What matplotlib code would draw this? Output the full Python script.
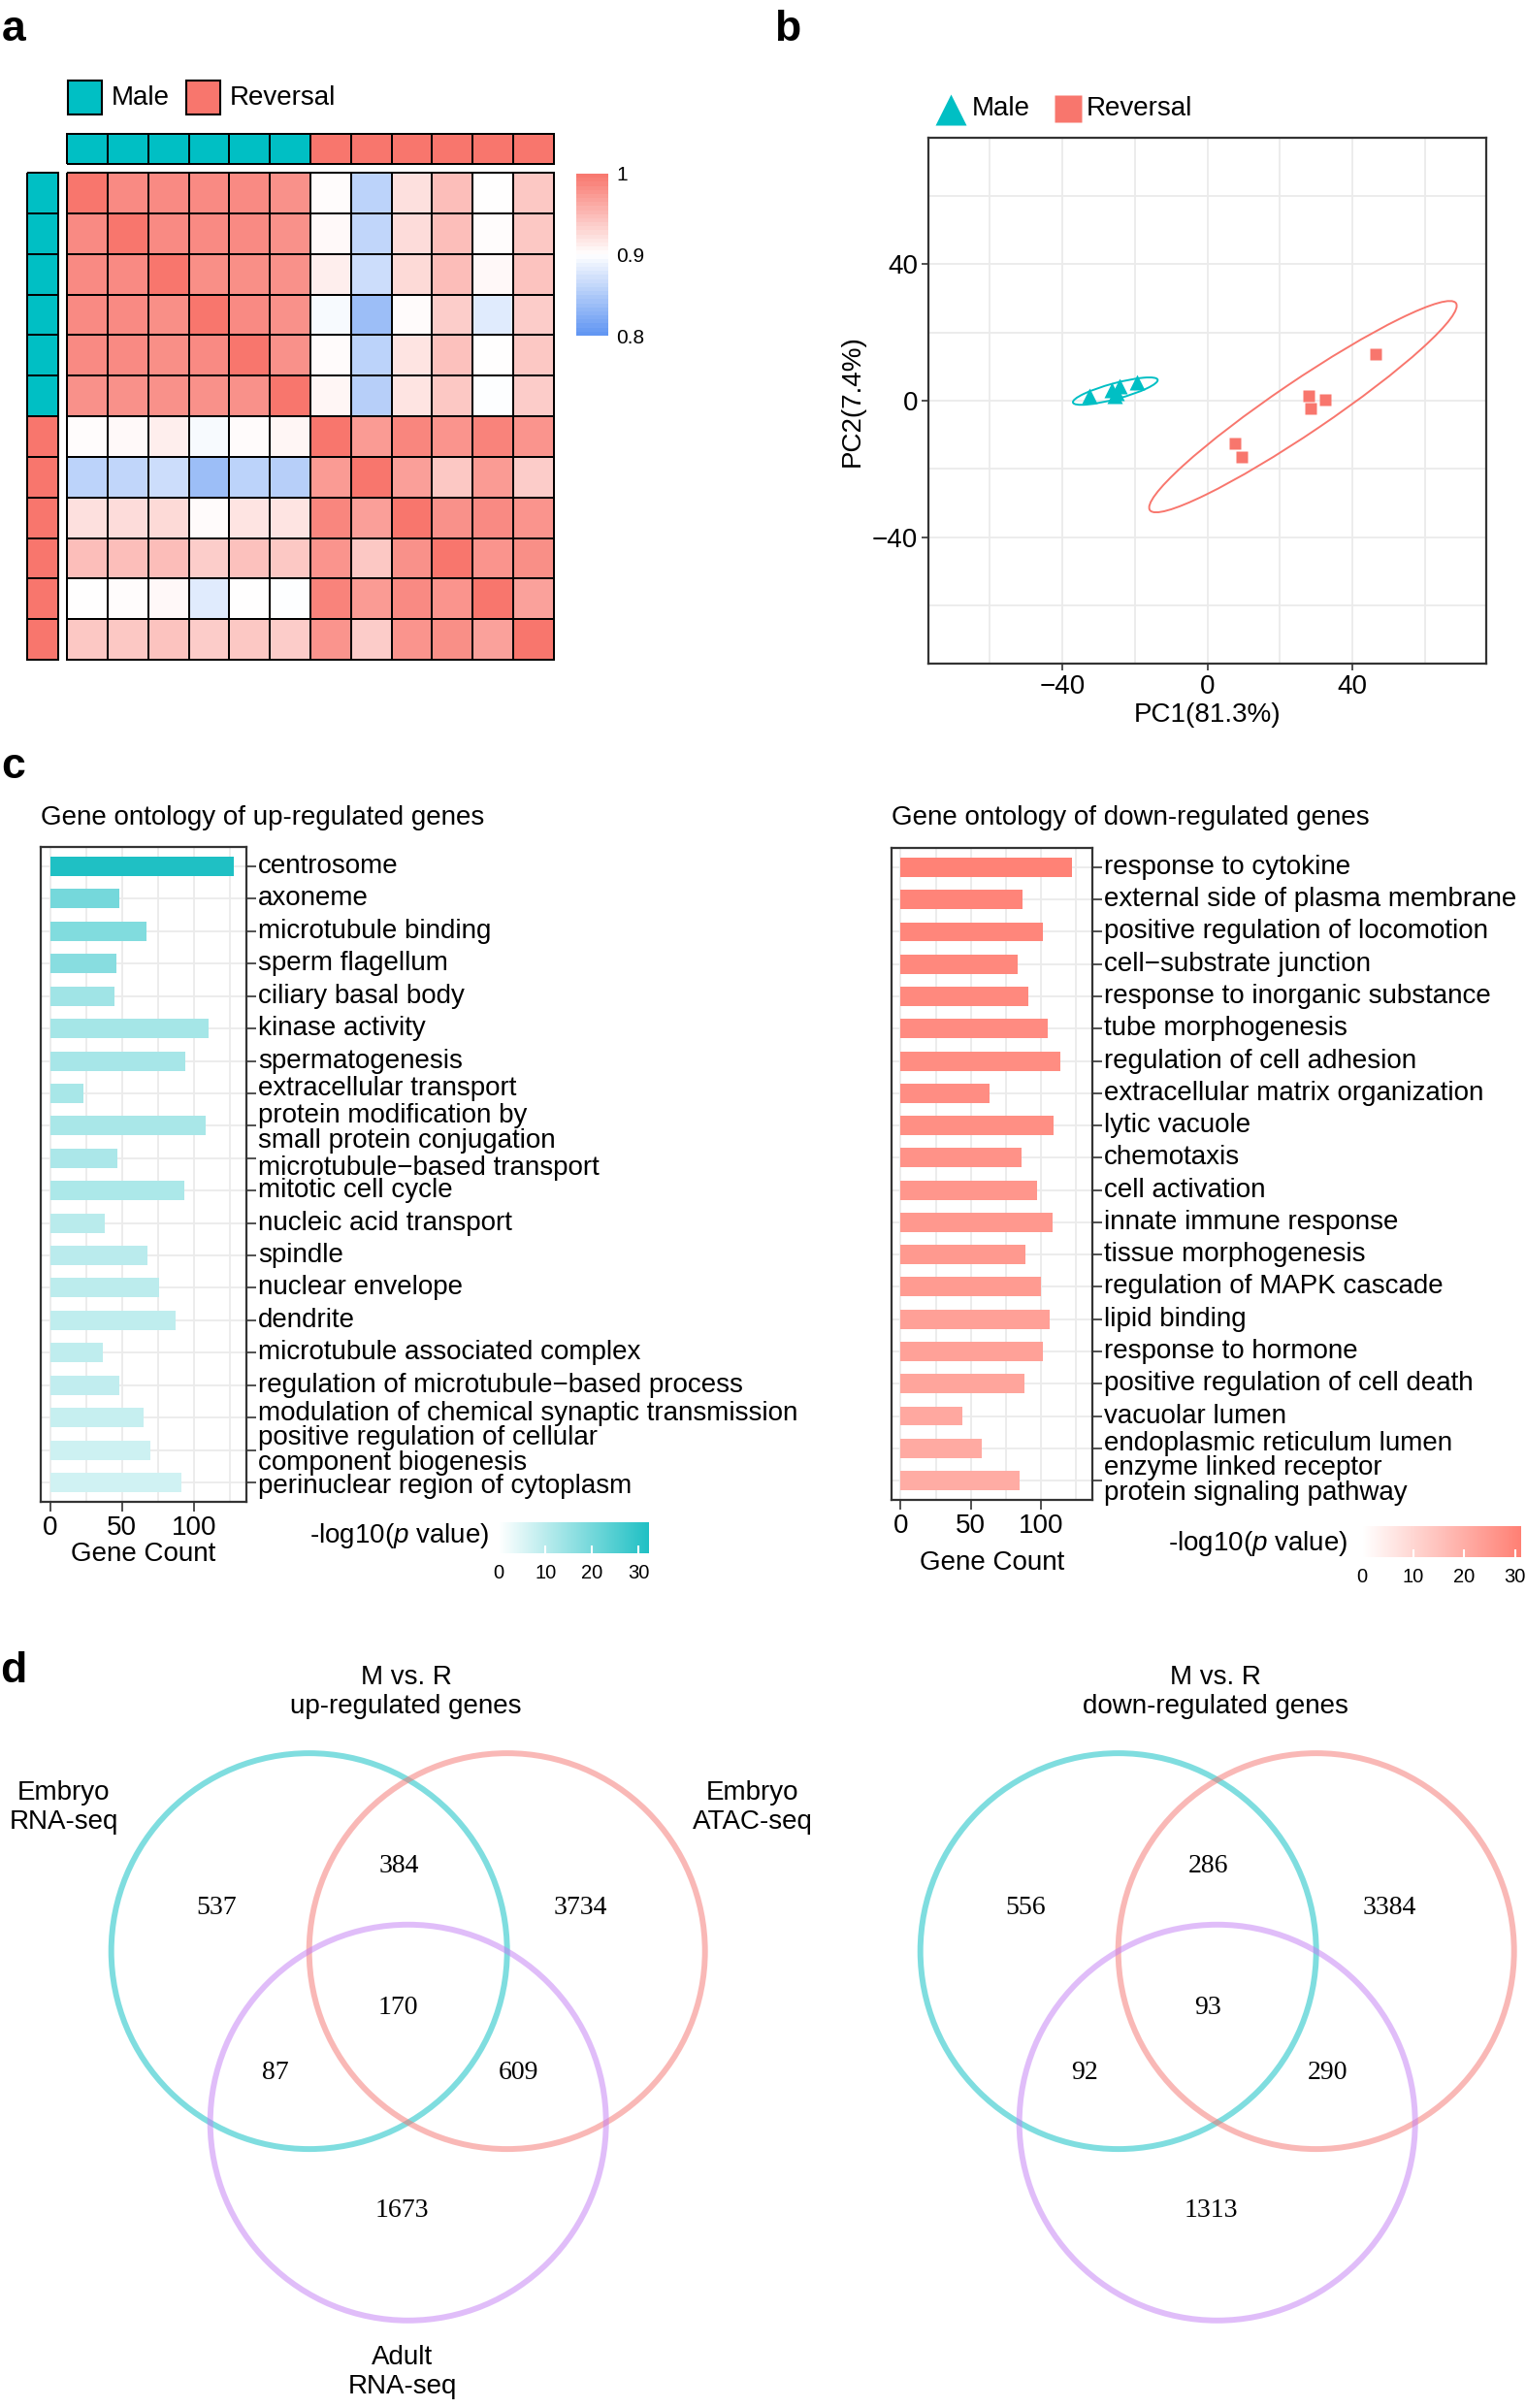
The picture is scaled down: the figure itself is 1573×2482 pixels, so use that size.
import numpy as np
import matplotlib
matplotlib.use('Agg')
import matplotlib.pyplot as plt
from matplotlib.colors import LinearSegmentedColormap, ListedColormap, Normalize
from matplotlib.cm import ScalarMappable
from matplotlib.patches import Ellipse, Circle, Rectangle
from matplotlib.transforms import blended_transform_factory, offset_copy

plt.rcParams['font.family'] = ['Liberation Sans', 'DejaVu Sans']
plt.rcParams['mathtext.fontset'] = 'custom'
plt.rcParams['mathtext.rm'] = 'Liberation Sans'
plt.rcParams['mathtext.it'] = 'Liberation Sans:italic'

# ---------------- data ----------------
# a: sample correlation (6 Male, 6 Reversal)
sample_group = [0] * 6 + [1] * 6
group_names = ['Male', 'Reversal']
corr = [
    [1.000, 0.985, 0.985, 0.985, 0.985, 0.980, 0.902, 0.858, 0.922, 0.947, 0.900, 0.940],
    [0.985, 1.000, 0.985, 0.985, 0.985, 0.980, 0.904, 0.861, 0.925, 0.947, 0.902, 0.940],
    [0.985, 0.985, 1.000, 0.982, 0.982, 0.980, 0.912, 0.868, 0.927, 0.948, 0.905, 0.943],
    [0.985, 0.985, 0.982, 1.000, 0.985, 0.980, 0.895, 0.839, 0.903, 0.936, 0.881, 0.937],
    [0.985, 0.985, 0.982, 0.985, 1.000, 0.980, 0.903, 0.858, 0.920, 0.945, 0.900, 0.940],
    [0.980, 0.980, 0.980, 0.980, 0.980, 1.000, 0.907, 0.855, 0.920, 0.940, 0.899, 0.937],
    [0.902, 0.904, 0.912, 0.895, 0.903, 0.907, 1.000, 0.973, 0.988, 0.978, 0.990, 0.978],
    [0.858, 0.861, 0.868, 0.839, 0.858, 0.855, 0.973, 1.000, 0.970, 0.940, 0.973, 0.937],
    [0.922, 0.925, 0.927, 0.903, 0.920, 0.920, 0.988, 0.970, 1.000, 0.980, 0.985, 0.978],
    [0.947, 0.947, 0.948, 0.936, 0.945, 0.940, 0.978, 0.940, 0.980, 1.000, 0.978, 0.982],
    [0.900, 0.902, 0.905, 0.881, 0.900, 0.899, 0.990, 0.973, 0.985, 0.978, 1.000, 0.968],
    [0.940, 0.940, 0.943, 0.937, 0.940, 0.937, 0.978, 0.937, 0.978, 0.982, 0.968, 1.000],
]
corr_ticks = [0.8, 0.9, 1.0]
corr_ticklabels = ['0.8', '0.9', '1']

# b: PCA
male_pc1 = [-32.5, -26.3, -25.5, -24.3, -25.0, -19.3]
male_pc2 = [1.5, 3.0, 1.3, 4.3, 2.2, 5.3]
rev_pc1 = [7.7, 9.4, 27.9, 28.6, 32.6, 46.5]
rev_pc2 = [-12.4, -16.4, 1.5, -2.2, 0.4, 13.5]
# ellipses: centre x, centre y, width, height, angle
male_ellipse = (-25.4, 2.8, 24.3, 4.6, 16)
rev_ellipse = (26.4, -1.75, 104, 15, 35.7)

# c: gene ontology
up_terms = ['centrosome', 'axoneme', 'microtubule binding', 'sperm flagellum',
            'ciliary basal body', 'kinase activity', 'spermatogenesis',
            'extracellular transport', 'protein modification by\nsmall protein conjugation',
            'microtubule\u2212based transport', 'mitotic cell cycle', 'nucleic acid transport',
            'spindle', 'nuclear envelope', 'dendrite', 'microtubule associated complex',
            'regulation of microtubule\u2212based process',
            'modulation of chemical synaptic transmission',
            'positive regulation of cellular\ncomponent biogenesis',
            'perinuclear region of cytoplasm']
up_count = [128, 48, 67, 46, 45, 110, 94, 23, 108, 47, 93, 38, 68, 76, 87, 37, 48, 65, 70, 91]
up_logp = [32.2, 19.8, 18.0, 17.2, 13.7, 12.9, 12.6, 12.5, 12.4, 12.2, 11.9, 10.1, 10.0,
           9.6, 9.3, 9.2, 9.0, 8.2, 7.2, 6.8]

down_terms = ['response to cytokine', 'external side of plasma membrane',
              'positive regulation of locomotion', 'cell\u2212substrate junction',
              'response to inorganic substance', 'tube morphogenesis',
              'regulation of cell adhesion', 'extracellular matrix organization',
              'lytic vacuole', 'chemotaxis', 'cell activation', 'innate immune response',
              'tissue morphogenesis', 'regulation of MAPK cascade', 'lipid binding',
              'response to hormone', 'positive regulation of cell death', 'vacuolar lumen',
              'endoplasmic reticulum lumen', 'enzyme linked receptor\nprotein signaling pathway']
down_count = [122, 87, 101, 83, 91, 105, 114, 63, 109, 86, 97, 108, 89, 100, 106, 101, 88, 44, 58, 85]
down_logp = [30.7, 30.0, 29.5, 29.2, 29.0, 28.3, 28.0, 27.8, 27.5, 26.8, 25.8, 25.3, 25.1,
             24.6, 23.3, 23.1, 22.1, 21.4, 20.9, 20.4]

# d: Venn counts, order A, AB, B, ABC, AC, BC, C
venn_up = [537, 384, 3734, 170, 87, 609, 1673]
venn_down = [556, 286, 3384, 93, 92, 290, 1313]
venn_sets = ['Embryo\nRNA-seq', 'Embryo\nATAC-seq', 'Adult\nRNA-seq']

# ---------------- figure ----------------
W, H = 1573, 2482
fig = plt.figure(figsize=(W / 100, H / 100), dpi=100)

teal = '#00BFC4'
salmon = '#F8766D'
dark = '#333333'


def px_axes(x0, y0, x1, y1):
    return fig.add_axes([x0 / W, 1 - y1 / H, (x1 - x0) / W, (y1 - y0) / H])


# overlay in pixel coordinates for free text / legends
ov = fig.add_axes([0, 0, 1, 1])
ov.set_xlim(0, W)
ov.set_ylim(H, 0)
ov.axis('off')

for lab, (x, y) in zip('abcd', [(14, 30), (812, 30), (14, 790), (14, 1722)]):
    ov.text(x, y, lab, fontsize=32, fontweight='bold', ha='center', va='center')

# ---- a: heatmap ----
hm_cmap = LinearSegmentedColormap.from_list('hm', ['#5F95F2', 'white', '#F8766D'])
grp_cmap = ListedColormap([teal, salmon])

ax = px_axes(69, 178, 571, 680)
m = ax.pcolormesh(np.array(corr), cmap=hm_cmap, vmin=0.8, vmax=1.0,
                  edgecolors='black', linewidth=1.3)
m.set_clip_on(False)
ax.set_xlim(0, 12)
ax.set_ylim(12, 0)
ax.axis('off')

ax = px_axes(69, 138, 571, 169)
m = ax.pcolormesh(np.array([sample_group]), cmap=grp_cmap, vmin=0, vmax=1,
                  edgecolors='black', linewidth=1.3)
m.set_clip_on(False)
ax.axis('off')

ax = px_axes(28, 178, 60, 680)
m = ax.pcolormesh(np.array(sample_group)[:, None], cmap=grp_cmap, vmin=0, vmax=1,
                  edgecolors='black', linewidth=1.3)
m.set_clip_on(False)
ax.set_ylim(12, 0)
ax.axis('off')

cax = px_axes(594, 179, 627, 346)
lev = np.linspace(0.8, 1.0, 41)
cax.pcolormesh([0, 1], lev, ((lev[:-1] + lev[1:]) / 2)[:, None], cmap=hm_cmap, vmin=0.8, vmax=1.0)
cax.set_ylim(0.8, 1.0)
cax.set_xticks([])
cax.yaxis.tick_right()
cax.set_yticks(corr_ticks)
cax.set_yticklabels(corr_ticklabels)
cax.tick_params(length=0, labelsize=15, pad=6)
for s in cax.spines.values():
    s.set_visible(False)

for i, (name, col) in enumerate(zip(group_names, [teal, salmon])):
    x0 = [70, 192][i]
    ov.add_patch(Rectangle((x0, 83), 35, 35, fc=col, ec='black', lw=1.5))
    ov.text(x0 + 45, 101, name, fontsize=20, va='center')

# ---- b: PCA ----
ax = px_axes(957, 142, 1532, 684)
ax.set_xlim(-77, 77)
ax.set_ylim(-77, 77)
ax.set_xticks([-40, 0, 40])
ax.set_yticks([-40, 0, 40])
ax.set_xticks([-60, -20, 20, 60], minor=True)
ax.set_yticks([-60, -20, 20, 60], minor=True)
ax.grid(True, which='both', color='#EBEBEB', lw=1.3)
ax.set_axisbelow(True)
ax.tick_params(which='minor', length=0)
ax.tick_params(which='major', length=5, width=1.2, color=dark, labelsize=20, pad=3)
for s in ax.spines.values():
    s.set_color(dark)
    s.set_linewidth(1.6)
for (cx, cy, w, h, a), col in [(male_ellipse, teal), (rev_ellipse, salmon)]:
    ax.add_patch(Ellipse((cx, cy), w, h, angle=a, fill=False, ec=col, lw=1.4))
ax.plot(male_pc1, male_pc2, '^', color=teal, ms=12, mec='none')
ax.plot(rev_pc1, rev_pc2, 's', color=salmon, ms=9, mec='none')
ax.set_xlabel('PC1(81.3%)', fontsize=20, labelpad=2)
ax.set_ylabel('PC2(7.4%)', fontsize=20, labelpad=5)

ov.plot([980], [113], '^', ms=23, color=teal, mec='none')
ov.text(1002, 112, 'Male', fontsize=20, va='center')
ov.plot([1101], [112], 's', ms=19.5, color=salmon, mec='none')
ov.text(1120, 112, 'Reversal', fontsize=20, va='center')

# ---- c: GO bar charts ----
up_cmap = LinearSegmentedColormap.from_list('up', ['white', '#1FC0C4'])
down_cmap = LinearSegmentedColormap.from_list('down', ['white', '#FF8074'])


def go_bars(box, terms, counts, logp, cmap, vmax, nudge, title, title_x):
    ax = px_axes(*box)
    n = len(terms)
    y = np.arange(n)
    norm = Normalize(0, vmax)
    ax.barh(y, counts, height=0.6, color=cmap(norm(np.array(logp))), zorder=3)
    ax.set_xlim(-6.5, 136.5)
    ax.set_ylim(n - 0.4, -0.6)
    ax.set_xticks([0, 50, 100])
    ax.set_xticks([25, 75, 125], minor=True)
    ax.grid(axis='x', which='both', color='#EBEBEB', lw=1.3)
    ax.grid(axis='y', which='major', color='#EBEBEB', lw=1.3)
    ax.set_axisbelow(True)
    ax.yaxis.tick_right()
    ax.set_yticks(y)
    ax.set_yticklabels([])
    ax.tick_params(which='minor', length=0)
    ax.tick_params(which='major', length=7, width=1.2, color=dark, labelsize=20, pad=3)
    for s in ax.spines.values():
        s.set_color(dark)
        s.set_linewidth(1.6)
    tr = blended_transform_factory(ax.transAxes, ax.transData)
    for i, term in enumerate(terms):
        t = offset_copy(tr, fig=fig, x=12, y=nudge.get(i, 0), units='dots')
        ax.text(1.0, i, term, transform=t, ha='left', va='center', fontsize=20,
                linespacing=1.0, clip_on=False)
    ov.text(title_x, 843, title, fontsize=20, va='center')
    return ax


ax = go_bars((42, 873, 254, 1548), up_terms, up_count, up_logp, up_cmap, 32.2,
             {7: 5, 8: -3, 9: -10, 17: 4, 19: -4},
             'Gene ontology of up-regulated genes', 42)
ax.set_xlabel('Gene Count', fontsize=20, labelpad=1)
ax = go_bars((919, 874, 1126, 1546), down_terms, down_count, down_logp, down_cmap, 31.2,
             {18: 5}, 'Gene ontology of down-regulated genes', 919)
ax.set_xlabel('Gene Count', fontsize=20, labelpad=9)

p_title = '-log10(' + r'$\mathit{p}$' + ' value)'
for box, cmap, vmax, tx, ty in [((514, 1569, 669, 1601), up_cmap, 32.2, 504, 1583),
                                ((1404, 1573, 1568, 1605), down_cmap, 31.2, 1389, 1591)]:
    cax = px_axes(*box)
    cb = fig.colorbar(ScalarMappable(Normalize(0, vmax), cmap), cax=cax,
                      orientation='horizontal', ticks=[0, 10, 20, 30])
    cb.outline.set_visible(False)
    cax.tick_params(axis='x', direction='in', color='white', length=6, width=1.5,
                    labelsize=14.5, pad=8)
    ov.text(tx, ty, p_title, fontsize=20, ha='right', va='center')

# ---- d: Venn diagrams ----
R = 204.0
venn_centres = [(-0.5, 0.2887), (0.5, 0.2887), (0.0, -0.5774)]
venn_colors = ['#01BDC1', '#F5736F', '#C37DF5']
count_pos = [(-0.97, 0.505), (-0.045, 0.72), (0.87, 0.505), (-0.05, 0.0),
             (-0.67, -0.324), (0.56, -0.324), (-0.03, -1.02)]


def venn(box, centroid, counts, title, names):
    x0, y0, x1, y1 = box
    ax = px_axes(*box)
    ax.set_xlim((x0 - centroid[0]) / R, (x1 - centroid[0]) / R)
    ax.set_ylim((centroid[1] - y1) / R, (centroid[1] - y0) / R)
    ax.axis('off')
    for c, col in zip(venn_centres, venn_colors):
        ax.add_patch(Circle(c, 1.0, fill=False, ec=col, lw=4.3, alpha=0.5))
    for (lx, ly), v in zip(count_pos, counts):
        ax.text(lx, ly, str(v), family='Liberation Serif', fontsize=20, ha='center', va='center')
    ax.text(-0.01, 1.6, title, fontsize=20, ha='center', va='center')
    if names:
        for (lx, ly), nm in zip([(-1.74, 1.015), (1.74, 1.015), (-0.03, -1.838)], names):
            ax.text(lx, ly, nm, fontsize=20, ha='center', va='center', clip_on=False)


venn((0, 1690, 842, 2482), (420.7, 2070), venn_up, 'M vs. R\nup-regulated genes', venn_sets)
venn((842, 1690, 1573, 2482), (1254.7, 2070), venn_down, 'M vs. R\ndown-regulated genes', None)

fig.savefig('out.png', dpi=100)
